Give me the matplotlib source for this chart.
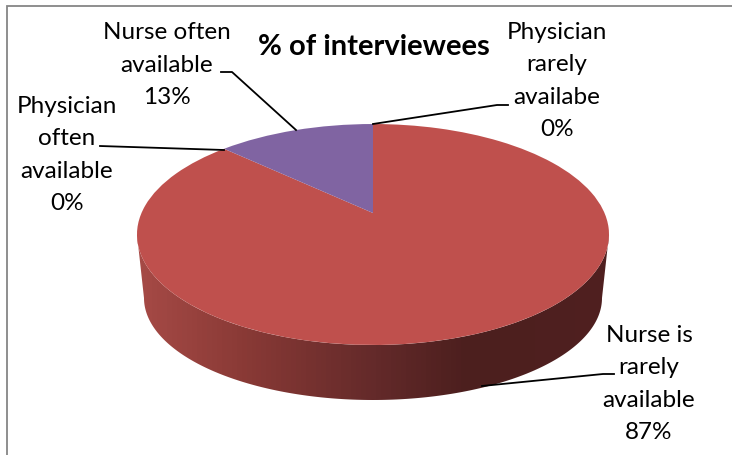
import numpy as np
import matplotlib
matplotlib.use('Agg')
import matplotlib.pyplot as plt
from matplotlib.patches import Polygon
from matplotlib.transforms import Transform

categories = ['Physician\nrarely\navailabe', 'Nurse is\nrarely\navailable',
              'Physician\noften\navailable', 'Nurse often\navailable']
percent = [0, 87, 0, 13]
colors = ['#4F81BD', '#BF504D', '#9BBB59', '#8064A2']
title = '% of interviewees'

plt.rcParams['font.family'] = ['Lato', 'DejaVu Sans']


class Tilt(Transform):
    # unit circle of the pie -> pixels, tilted with some perspective like the 3D pie in Excel
    input_dims = 2
    output_dims = 2

    def transform_non_affine(self, values):
        values = np.asarray(values)
        w = 1 + 0.1946 * values[:, 1]
        return np.column_stack((373 + 231.5 * values[:, 0] / w,
                                213 - 106.3 * values[:, 1] / w))


fig = plt.figure(figsize=(7.32, 4.55), dpi=100)
ax = fig.add_axes([0, 0, 1, 1])

wedges, _ = ax.pie(percent, colors=colors, startangle=90, counterclock=False)
for w in wedges:
    w.set_transform(Tilt() + ax.transData)
    w.set_zorder(3)

# side wall of the pie
t = np.linspace(0, np.pi, 200)
top_edge = np.column_stack((373 + 236 * np.cos(t), 234.5 + 110.5 * np.sin(t)))
low_edge = np.column_stack((373 + 229 * np.cos(t), 298 + 102 * np.sin(t)))[::-1]
wall = Polygon(np.vstack((top_edge, low_edge)), closed=True, transform=ax.transData)

xs = np.arange(137, 610, 5)
stops_x = [137, 240, 372, 465, 609]
stops_rgb = np.array([[166, 74, 70], [138, 58, 54], [100, 42, 42], [76, 31, 30], [80, 32, 32]])
gradient = np.stack([np.interp(xs, stops_x, stops_rgb[:, i]) for i in range(3)], axis=1) / 255
im = ax.imshow(gradient[np.newaxis, :, :], extent=(137, 610, 402, 230), aspect='auto',
               interpolation='nearest', zorder=2)
im.set_clip_path(wall)

ax.set_aspect('auto')
ax.set_xlim(0, 732)
ax.set_ylim(455, 0)
ax.axis('off')

# chart border, only left and top show
ax.plot([6.5, 6.5, 732], [455, 5.5, 5.5], color='#868686', lw=1.3, solid_joinstyle='miter')

# leader lines
ax.plot([221, 232, 296], [72, 72, 130], color='black', lw=1.3, zorder=4)
ax.plot([100, 224], [146, 150], color='black', lw=1.3, zorder=4)
ax.plot([373, 497, 508], [124, 105, 105], color='black', lw=1.3, zorder=4)
ax.plot([482, 603, 614], [386, 374, 374], color='black', lw=1.3, zorder=4)

label_pos = [(557, 81), (649, 384), (67, 155), (167, 65)]
for name, val, (x, y) in zip(categories, percent, label_pos):
    ax.text(x, y, f'{name}\n{val}%', ha='center', va='center', fontsize=17.5,
            linespacing=1.66, color='black', zorder=5)

ax.text(374, 47, title, ha='center', va='center', fontsize=21, fontweight='bold', color='black', zorder=5)

fig.savefig('out.png', dpi=100)
